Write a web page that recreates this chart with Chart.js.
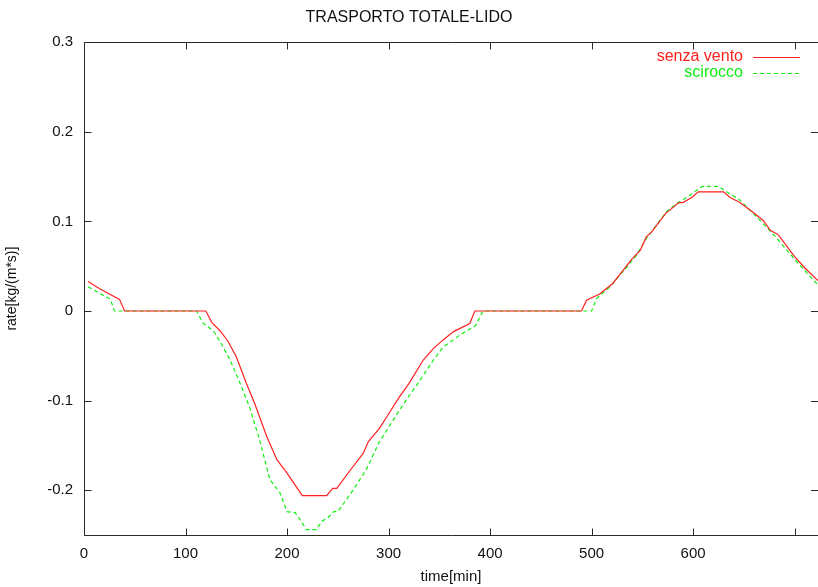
<!DOCTYPE html>
<html>
<head>
<meta charset="utf-8">
<script src="https://cdn.jsdelivr.net/npm/chart.js@4/dist/chart.umd.min.js"></script>
<style>
  html, body { margin: 0; padding: 0; background: #ffffff; }
  #wrap { width: 818px; height: 587px; position: relative; }
</style>
</head>
<body>
<div id="wrap"><canvas id="c" width="818" height="587"></canvas></div>
<script>
// ---- data ----
const chartTitle = "TRASPORTO TOTALE-LIDO";
const xTitle = "time[min]";
const yTitle = "rate[kg/(m*s)]";
const seriesNames = ["senza vento", "scirocco"];

const redTime = [4, 15, 25, 35, 40, 120, 126, 134, 142, 150, 160, 168, 180, 190, 200, 215, 239, 245, 249, 262, 275, 280, 291, 300, 310, 320, 334, 344, 354, 364, 380, 385, 490, 495, 508, 521, 530, 539, 548, 554, 559, 573, 586, 590, 599, 605, 630, 636, 646, 658, 669, 676, 684, 699, 710, 723];
const redRate = [0.033, 0.025, 0.019, 0.013, 0, 0, -0.013, -0.022, -0.034, -0.051, -0.081, -0.103, -0.14, -0.166, -0.181, -0.206, -0.206, -0.198, -0.198, -0.178, -0.159, -0.146, -0.131, -0.115, -0.097, -0.081, -0.055, -0.042, -0.032, -0.023, -0.014, 0, 0, 0.012, 0.019, 0.031, 0.044, 0.057, 0.068, 0.083, 0.088, 0.109, 0.121, 0.121, 0.127, 0.133, 0.133, 0.127, 0.121, 0.111, 0.101, 0.09, 0.085, 0.062, 0.048, 0.034];

const greenTime = [4, 15, 26, 30, 111, 117, 128, 137, 144, 151, 163, 173, 183, 193, 200, 208, 213, 219, 229, 234, 240, 246, 250, 265, 278, 291, 300, 310, 320, 330, 344, 354, 370, 386, 393, 500, 505, 518, 534, 544, 554, 560, 574, 584, 594, 599, 609, 625, 633, 646, 659, 672, 681, 699, 710, 723];
const greenRate = [0.027, 0.02, 0.013, 0, 0, -0.013, -0.023, -0.04, -0.055, -0.073, -0.107, -0.144, -0.188, -0.203, -0.224, -0.225, -0.233, -0.244, -0.244, -0.235, -0.231, -0.224, -0.224, -0.2, -0.177, -0.146, -0.13, -0.112, -0.095, -0.079, -0.055, -0.04, -0.027, -0.016, 0, 0, 0.014, 0.027, 0.048, 0.062, 0.081, 0.09, 0.111, 0.12, 0.127, 0.131, 0.139, 0.139, 0.133, 0.124, 0.109, 0.094, 0.083, 0.059, 0.045, 0.029];

const xTicks = [0, 100, 200, 300, 400, 500, 600, 700];
const yTicks = [-0.2, -0.1, 0, 0.1, 0.2, 0.3];
const xRange = [0, 723];
const yRange = [-0.25, 0.3];

// ---- styling ----
const FONT = "'Liberation Sans', Arial, Helvetica, sans-serif";
const AXIS_COLOR = "#2a2a2a";
const RED = "#ff2020";
const GREEN = "#10ee10";

const toPts = (xs, ys) => xs.map((x, i) => ({ x: x, y: ys[i] }));

const framePlugin = {
  id: 'gnuplotFrame',
  afterDatasetsDraw(chart) {
    const ctx = chart.ctx;
    const a = chart.chartArea;
    const xs = chart.scales.x, ys = chart.scales.y;
    const L = Math.round(a.left) + 0.5, R = chart.width + 1;
    const T = Math.round(a.top) + 0.5, B = Math.round(a.bottom) + 0.5;
    ctx.save();
    ctx.strokeStyle = AXIS_COLOR;
    ctx.lineWidth = 1;
    ctx.beginPath();
    ctx.moveTo(R, T); ctx.lineTo(L, T); ctx.lineTo(L, B); ctx.lineTo(R, B);
    ctx.stroke();
    const tl = 7;
    ctx.beginPath();
    xTicks.forEach(v => {
      const px = Math.round(xs.getPixelForValue(v)) + 0.5;
      ctx.moveTo(px, B); ctx.lineTo(px, B - tl);
      ctx.moveTo(px, T); ctx.lineTo(px, T + tl);
    });
    yTicks.forEach(v => {
      const py = Math.round(ys.getPixelForValue(v)) + 0.5;
      ctx.moveTo(L, py); ctx.lineTo(L + tl, py);
      ctx.moveTo(chart.width, py); ctx.lineTo(chart.width - tl, py);
    });
    ctx.stroke();

    // key (gnuplot style: text right-aligned, sample to the right)
    ctx.font = "16px " + FONT;
    ctx.textAlign = "right";
    ctx.textBaseline = "middle";
    const textRight = 743, x0 = 753, x1 = 800;
    const rowsY = [57, 73];
    chart.data.datasets.forEach((ds, i) => {
      const y = rowsY[i];
      ctx.fillStyle = ds.borderColor;
      ctx.fillText(ds.label, textRight, y);
      ctx.strokeStyle = ds.borderColor;
      ctx.lineWidth = 1;
      ctx.setLineDash(ds.borderDash || []);
      ctx.beginPath();
      ctx.moveTo(x0, y + 0.5); ctx.lineTo(x1, y + 0.5);
      ctx.stroke();
    });
    ctx.setLineDash([]);
    ctx.restore();
  }
};

const onTick = (vals) => (scale) => {
  scale.ticks = scale.ticks.filter(t => vals.some(v => Math.abs(v - t.value) < 1e-9));
};

new Chart(document.getElementById('c'), {
  type: 'line',
  data: {
    datasets: [
      { label: seriesNames[0], data: toPts(redTime, redRate), borderColor: RED, borderWidth: 1.2, pointRadius: 0, fill: false, tension: 0 },
      { label: seriesNames[1], data: toPts(greenTime, greenRate), borderColor: GREEN, borderWidth: 1.2, borderDash: [4, 3], pointRadius: 0, fill: false, tension: 0 }
    ]
  },
  options: {
    responsive: false,
    animation: false,
    devicePixelRatio: 1,
    layout: { padding: { left: 0, right: 0, top: 0, bottom: 0 } },
    plugins: {
      legend: { display: false },
      tooltip: { enabled: false },
      title: {
        display: true,
        text: chartTitle,
        color: '#111',
        font: { family: FONT, size: 16, weight: 'normal' },
        padding: { top: 8, bottom: 15 }
      }
    },
    scales: {
      x: {
        type: 'linear',
        min: xRange[0], max: xRange[1],
        afterBuildTicks: onTick(xTicks),
        afterFit: (s) => { s.height = 52; },
        grid: { display: false, drawTicks: false },
        border: { display: false },
        ticks: { stepSize: 100, color: '#111', padding: 10, maxRotation: 0, autoSkip: false, font: { family: FONT, size: 15 } },
        title: { display: true, text: xTitle, color: '#111', font: { family: FONT, size: 15 }, padding: { top: 0, bottom: 1 } }
      },
      y: {
        type: 'linear',
        min: yRange[0], max: yRange[1],
        afterBuildTicks: onTick(yTicks),
        afterFit: (s) => { s.width = 84; },
        grid: { display: false, drawTicks: false },
        border: { display: false },
        ticks: {
          stepSize: 0.05, color: '#111', padding: 11, autoSkip: false,
          font: { family: FONT, size: 15 },
          callback: (v) => Math.abs(v) < 1e-9 ? '0' : String(Math.round(v * 10) / 10)
        },
        title: { display: true, text: yTitle, color: '#111', font: { family: FONT, size: 14 }, padding: { top: 4, bottom: 0 } }
      }
    }
  },
  plugins: [framePlugin]
});
</script>
</body>
</html>
